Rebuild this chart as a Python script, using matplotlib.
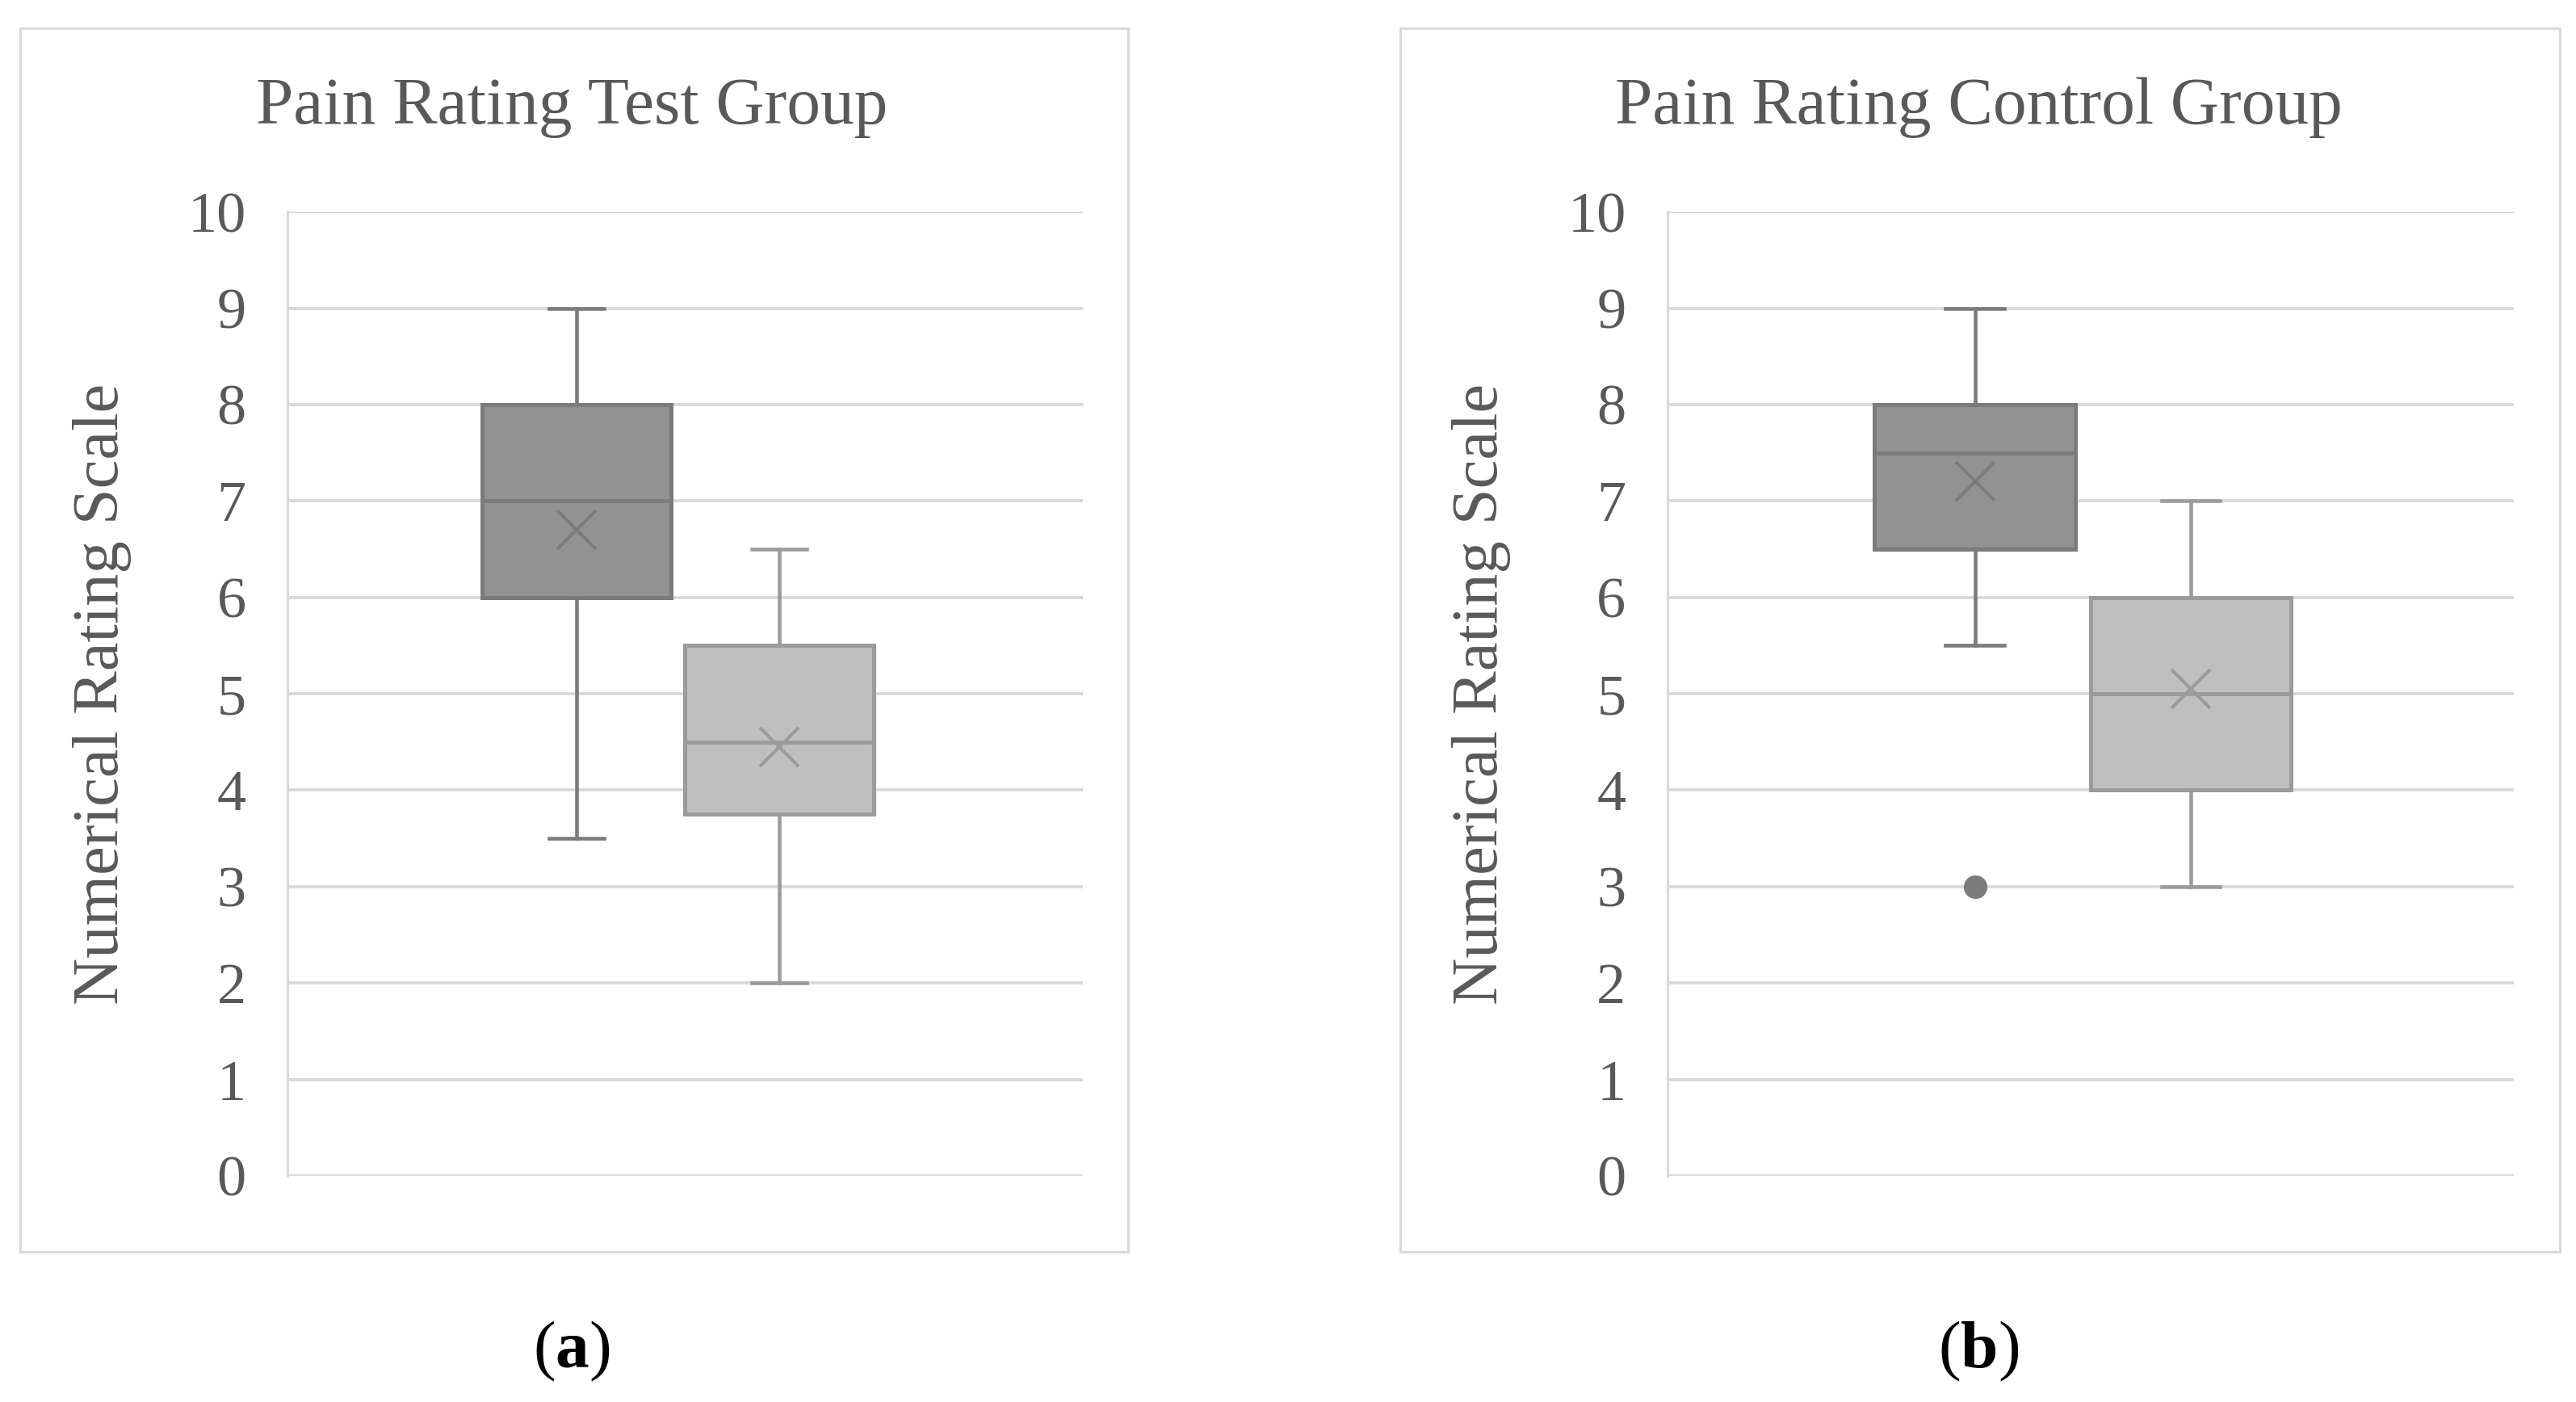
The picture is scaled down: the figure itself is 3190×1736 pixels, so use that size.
import matplotlib

matplotlib.use("Agg")
import matplotlib.pyplot as plt
from matplotlib.patches import Rectangle

# ------------------------------------------------------------------ data
panel_titles = ["Pain Rating Test Group", "Pain Rating Control Group"]
panel_tags = ["a", "b"]
y_ticks = list(range(0, 11))

# box 1 (dark) and box 2 (light) per panel
test_whislo = [3.5, 2.0]
test_q1 = [6.0, 3.75]
test_med = [7.0, 4.5]
test_q3 = [8.0, 5.5]
test_whishi = [9.0, 6.5]
test_mean = [6.7, 4.45]
test_fliers = [[], []]

ctrl_whislo = [5.5, 3.0]
ctrl_q1 = [6.5, 4.0]
ctrl_med = [7.5, 5.0]
ctrl_q3 = [8.0, 6.0]
ctrl_whishi = [9.0, 7.0]
ctrl_mean = [7.2, 5.05]
ctrl_fliers = [[3.0], []]

FACE = ["#929292", "#bfbfbf"]
EDGE = ["#7b7b7b", "#9b9b9b"]
TXT = "#595959"
GRID = "#d9d9d9"
FONT = "Liberation Serif"

plt.rcParams["mathtext.fontset"] = "custom"
plt.rcParams["mathtext.rm"] = FONT
plt.rcParams["mathtext.bf"] = FONT + ":bold"


def stats(lo, q1, med, q3, hi, mean, fl):
    return [dict(whislo=lo[i], q1=q1[i], med=med[i], q3=q3[i], whishi=hi[i],
                 mean=mean[i], fliers=fl[i]) for i in range(len(lo))]


panels = [
    stats(test_whislo, test_q1, test_med, test_q3, test_whishi, test_mean, test_fliers),
    stats(ctrl_whislo, ctrl_q1, ctrl_med, ctrl_q3, ctrl_whishi, ctrl_mean, ctrl_fliers),
]

fig = plt.figure(figsize=(31.9, 17.36), dpi=100)

# figure-fraction layout: border box, axes, text anchors
borders = [(0.0078, 0.107, 0.430, 0.873), (0.5436, 0.107, 0.4501, 0.873)]
axes_pos = [(0.1116, 0.1613, 0.3088, 0.6877), (0.6473, 0.1613, 0.3286, 0.6877)]
title_x = [0.222, 0.768]
ylabel_x = [0.0398, 0.575]

for k, st in enumerate(panels):
    bx, by, bw, bh = borders[k]
    fig.patches.append(Rectangle((bx, by), bw, bh, transform=fig.transFigure,
                                 fill=False, ec=GRID, lw=2.2))

    ax = fig.add_axes(axes_pos[k])
    for i, s in enumerate(st):
        ax.bxp([s], positions=[i + 1], widths=0.93, showmeans=True, patch_artist=True,
               boxprops=dict(facecolor=FACE[i], edgecolor=EDGE[i], linewidth=3.6),
               medianprops=dict(color=EDGE[i], linewidth=3.6),
               whiskerprops=dict(color=EDGE[i], linewidth=3.3),
               capprops=dict(color=EDGE[i], linewidth=3.3),
               capwidths=0.27,
               meanprops=dict(marker="x", markersize=35, markeredgewidth=2.9,
                              markeredgecolor=EDGE[i]),
               flierprops=dict(marker="o", markersize=20, markerfacecolor=EDGE[i],
                               markeredgecolor=EDGE[i]),
               zorder=3)

    ax.set_xlim(-0.424, 3.497)
    ax.set_ylim(0, 10)
    ax.set_yticks(y_ticks)
    ax.set_yticklabels([str(t) for t in y_ticks], fontsize=52, color=TXT, family=FONT)
    ax.set_xticks([])
    ax.tick_params(axis="y", length=0, pad=37)
    ax.yaxis.grid(True, color=GRID, lw=2.8)
    ax.set_axisbelow(True)
    for sp in ["top", "right", "bottom"]:
        ax.spines[sp].set_visible(False)
    ax.spines["left"].set_color(GRID)
    ax.spines["left"].set_linewidth(2.2)

    fig.text(title_x[k], 0.923, panel_titles[k], ha="center", va="center",
             fontsize=60, color=TXT, family=FONT)
    fig.text(ylabel_x[k], 0.505, "Numerical Rating Scale", ha="center", va="center",
             rotation=90, fontsize=58, color=TXT, family=FONT)
    fig.text(title_x[k], 0.036, "($\\mathbf{" + panel_tags[k] + "}$)", ha="center",
             va="center", fontsize=60, color="black", family=FONT)

fig.savefig("out.png", dpi=100)
